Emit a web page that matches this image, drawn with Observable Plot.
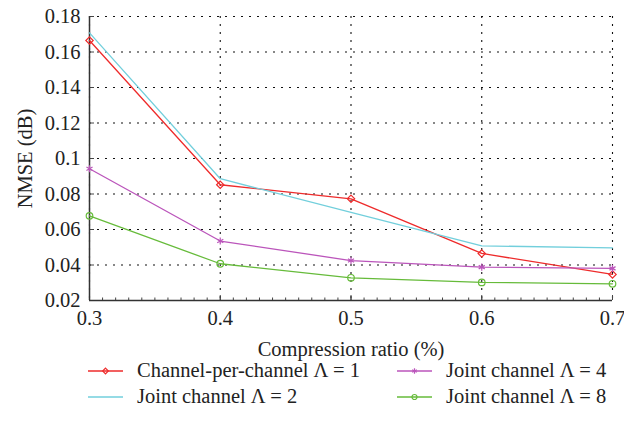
<!DOCTYPE html>
<html>
<head>
<meta charset="utf-8">
<script src="https://cdn.jsdelivr.net/npm/d3@7"></script>
<script src="https://cdn.jsdelivr.net/npm/@observablehq/plot@0.6"></script>
<style>
  body { margin: 0; background: #fff; font-family: "Liberation Serif", "Times New Roman", serif; }
  #chart svg { overflow: visible; }
  .legend { position: relative; height: 70px; font-size: 20.5px; color: #222; }
  .item { position: absolute; display: flex; align-items: center; white-space: nowrap; }
  .item svg { margin-right: 14px; }
</style>
</head>
<body>
<div id="chart"></div>
<div class="legend" id="legend"></div>
<script>
const ratios = [0.3, 0.4, 0.5, 0.6, 0.7];
const seriesNames = ["Channel-per-channel Λ = 1", "Joint channel Λ = 2", "Joint channel Λ = 4", "Joint channel Λ = 8"];
const lambda1 = [0.1665, 0.0852, 0.0773, 0.0465, 0.0347];
const lambda2 = [0.1708, 0.0886, 0.0696, 0.0508, 0.0496];
const lambda4 = [0.0942, 0.0535, 0.0425, 0.0388, 0.0381];
const lambda8 = [0.0677, 0.0407, 0.0328, 0.0302, 0.0294];
const colors = ["#ee2b2b", "#72cfdc", "#bb55bb", "#66bb3a"];
const symbols = ["diamond2", null, "asterisk", "circle"];
const xTicks = [0.3, 0.4, 0.5, 0.6, 0.7];
const yTicks = [0.02, 0.04, 0.06, 0.08, 0.1, 0.12, 0.14, 0.16, 0.18];
const yTickLabels = ["0.02", "0.04", "0.06", "0.08", "0.1", "0.12", "0.14", "0.16", "0.18"];
const xTickLabels = ["0.3", "0.4", "0.5", "0.6", "0.7"];

const allSeries = [lambda1, lambda2, lambda4, lambda8];
const data = allSeries.flatMap((vals, i) => vals.map((v, j) => ({x: ratios[j], y: v, s: seriesNames[i]})));
const minorX = d3.range(30, 71, 1).map(d => d / 100);

const lineMarks = allSeries.map((vals, i) => Plot.line(data.filter(d => d.s === seriesNames[i]), {x: "x", y: "y", stroke: colors[i], strokeWidth: 1.3}));
const dotMarks = allSeries.map((vals, i) => symbols[i] ? Plot.dot(data.filter(d => d.s === seriesNames[i]), {x: "x", y: "y", stroke: colors[i], symbol: symbols[i], r: 3.3, strokeWidth: 1.2, fill: "none"}) : null).filter(Boolean);

const fam = "'Liberation Serif', 'Times New Roman', serif";
const chart = Plot.plot({
  width: 624,
  height: 362,
  marginTop: 16,
  marginLeft: 89,
  marginRight: 12,
  marginBottom: 62,
  style: {fontFamily: fam, fontSize: "20.5px", color: "#222", background: "transparent"},
  x: {domain: [0.3, 0.7]},
  y: {domain: [0.02, 0.18]},
  marks: [
    Plot.gridX(xTicks, {stroke: "#111", strokeOpacity: 1, strokeWidth: 1.1, strokeDasharray: "2,6"}),
    Plot.gridY(yTicks, {stroke: "#111", strokeOpacity: 1, strokeWidth: 1.1, strokeDasharray: "2,6"}),
    Plot.axisX(minorX, {tickSize: -2.5, tickFormat: () => "", label: null, stroke: "#444"}),
    Plot.axisX(xTicks, {tickSize: -5, tickPadding: 15, tickFormat: (d, i) => xTickLabels[i], fontSize: 20.5, label: "Compression ratio (%)", labelAnchor: "center", labelArrow: "none", labelOffset: 55, stroke: "#444"}),
    Plot.axisY(yTicks, {tickSize: -5, tickPadding: 14, tickFormat: (d, i) => yTickLabels[i], fontSize: 20.5, label: "NMSE (dB)", labelAnchor: "center", labelArrow: "none", labelOffset: 72, stroke: "#444"}),
    Plot.ruleX([0.3], {stroke: "#333", strokeWidth: 1.5}),
    Plot.ruleY([0.02], {stroke: "#333", strokeWidth: 1.5}),
    ...lineMarks,
    ...dotMarks
  ]
});
document.getElementById("chart").appendChild(chart);

// Legend
const legend = document.getElementById("legend");
const positions = [[88, -3], [88, 23], [397, -3], [397, 23]];
seriesNames.forEach((name, i) => {
  const item = document.createElement("div");
  item.className = "item";
  item.style.left = positions[i][0] + "px";
  item.style.top = positions[i][1] + "px";
  const sw = d3.create("svg").attr("width", 35).attr("height", 14);
  sw.append("line").attr("x1", 0).attr("x2", 35).attr("y1", 7).attr("y2", 7).attr("stroke", colors[i]).attr("stroke-width", 1.6);
  if (symbols[i]) {
    const symMap = {diamond2: d3.symbolDiamond2, asterisk: d3.symbolAsterisk, circle: d3.symbolCircle};
    sw.append("path").attr("transform", "translate(17.5,7)").attr("d", d3.symbol(symMap[symbols[i]], 20)()).attr("fill", "none").attr("stroke", colors[i]).attr("stroke-width", 1.2);
  }
  item.appendChild(sw.node());
  const t = document.createElement("span");
  t.textContent = name;
  item.appendChild(t);
  legend.appendChild(item);
});
</script>
</body>
</html>
